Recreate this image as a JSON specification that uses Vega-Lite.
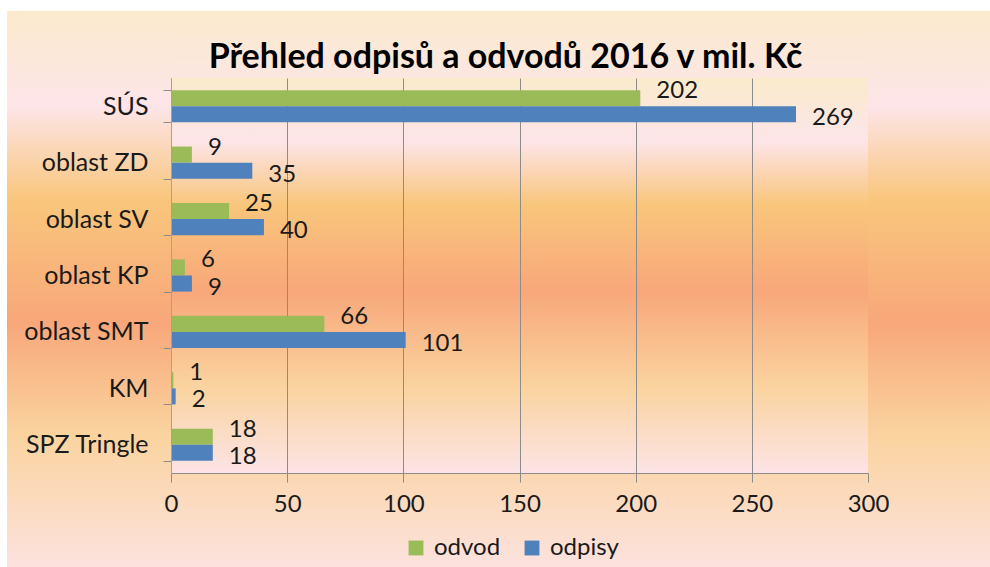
{
  "$schema": "https://vega.github.io/schema/vega-lite/v6.json",
  "width": 697,
  "height": 395,
  "autosize": {"type": "none"},
  "padding": {"left": 171, "top": 78, "right": 122, "bottom": 94},
  "background": "white",
  "view": {
    "stroke": null,
    "fill": {
      "gradient": "linear", "x1": 0, "y1": 0, "x2": 0, "y2": 1,
      "stops": [
        {"offset": 0, "color": "#FAEBCB"},
        {"offset": 0.16, "color": "#FDE5E9"},
        {"offset": 0.32, "color": "#F9C67C"},
        {"offset": 0.54, "color": "#F8A77A"},
        {"offset": 0.78, "color": "#FAD39E"},
        {"offset": 1, "color": "#FCE4E6"}
      ]
    }
  },
  "title": {
    "text": "Přehled odpisů a odvodů 2016 v mil. Kč",
    "font": "Lato",
    "fontSize": 34,
    "fontWeight": "bold",
    "color": "#000000",
    "anchor": "middle",
    "dx": -14,
    "offset": -64
  },
  "config": {
    "font": "Lato"
  },
  "datasets": {
    "bg": [{"k": 1}]
  },
  "data": {
    "values": [
      {"kategorie": "SÚS", "rada": "odvod", "hodnota": 202},
      {"kategorie": "SÚS", "rada": "odpisy", "hodnota": 269},
      {"kategorie": "oblast ZD", "rada": "odvod", "hodnota": 9},
      {"kategorie": "oblast ZD", "rada": "odpisy", "hodnota": 35},
      {"kategorie": "oblast SV", "rada": "odvod", "hodnota": 25},
      {"kategorie": "oblast SV", "rada": "odpisy", "hodnota": 40},
      {"kategorie": "oblast KP", "rada": "odvod", "hodnota": 6},
      {"kategorie": "oblast KP", "rada": "odpisy", "hodnota": 9},
      {"kategorie": "oblast SMT", "rada": "odvod", "hodnota": 66},
      {"kategorie": "oblast SMT", "rada": "odpisy", "hodnota": 101},
      {"kategorie": "KM", "rada": "odvod", "hodnota": 1},
      {"kategorie": "KM", "rada": "odpisy", "hodnota": 2},
      {"kategorie": "SPZ Tringle", "rada": "odvod", "hodnota": 18},
      {"kategorie": "SPZ Tringle", "rada": "odpisy", "hodnota": 18}
    ]
  },
  "encoding": {
    "y": {
      "field": "kategorie",
      "type": "nominal",
      "sort": ["SÚS", "oblast ZD", "oblast SV", "oblast KP", "oblast SMT", "KM", "SPZ Tringle"],
      "scale": {"paddingInner": 0.43, "paddingOuter": 0.215},
      "axis": {
        "title": null,
        "zindex": 1,
        "labelFont": "Lato",
        "labelFontSize": 25,
        "labelColor": "#1a1a1a",
        "labelPadding": 15,
        "tickSize": 8,
        "tickBand": "extent",
        "tickColor": "#8c8c8c",
        "domainColor": "#9aa3b0",
        "grid": false
      }
    }
  },
  "resolve": {"scale": {"x": "shared"}, "axis": {"x": "independent"}},
  "layer": [
    {
      "data": {"name": "bg"},
      "mark": {
        "type": "rect",
        "x": -164, "x2": 0, "y": -67, "y2": 489,
        "fill": {
          "gradient": "linear", "x1": 0, "y1": 0, "x2": 0, "y2": 1,
          "stops": [
            {"offset": 0, "color": "#FBEACC"},
            {"offset": 0.17, "color": "#FDE5E9"},
            {"offset": 0.34, "color": "#F9C67C"},
            {"offset": 0.56, "color": "#F8A77A"},
            {"offset": 0.76, "color": "#FAD39E"},
            {"offset": 1, "color": "#FCE2DE"}
          ]
        }
      },
      "encoding": {"y": null}
    },
    {
      "data": {"name": "bg"},
      "mark": {
        "type": "rect",
        "x": 697, "x2": 819, "y": -67, "y2": 489,
        "fill": {
          "gradient": "linear", "x1": 0, "y1": 0, "x2": 0, "y2": 1,
          "stops": [
            {"offset": 0, "color": "#FBEACC"},
            {"offset": 0.17, "color": "#FDE5E9"},
            {"offset": 0.34, "color": "#F9C67C"},
            {"offset": 0.56, "color": "#F8A77A"},
            {"offset": 0.76, "color": "#FAD39E"},
            {"offset": 1, "color": "#FCE2DE"}
          ]
        }
      },
      "encoding": {"y": null}
    },
    {
      "data": {"name": "bg"},
      "mark": {
        "type": "rect",
        "x": 0, "x2": 697, "y": -67, "y2": 0,
        "fill": {
          "gradient": "linear", "x1": 0, "y1": 0, "x2": 0, "y2": 1,
          "stops": [
            {"offset": 0, "color": "#FBEACC"},
            {"offset": 1, "color": "#FCE7E1"}
          ]
        }
      },
      "encoding": {"y": null}
    },
    {
      "data": {"name": "bg"},
      "mark": {
        "type": "rect",
        "x": 0, "x2": 697, "y": 395, "y2": 489,
        "fill": {
          "gradient": "linear", "x1": 0, "y1": 0, "x2": 0, "y2": 1,
          "stops": [
            {"offset": 0, "color": "#FBD7B1"},
            {"offset": 1, "color": "#FCE2DE"}
          ]
        }
      },
      "encoding": {"y": null}
    },
    {
      "mark": {"type": "bar"},
      "encoding": {
        "x": {
          "field": "hodnota",
          "type": "quantitative",
          "scale": {"domain": [0, 300], "nice": false},
          "axis": {
            "title": null,
            "orient": "bottom",
            "zindex": 0,
            "values": [0, 50, 100, 150, 200, 250, 300],
            "grid": true,
            "gridColor": "#8c8c8c",
            "gridOpacity": 1,
            "domain": false,
            "ticks": false,
            "labels": false
          }
        },
        "yOffset": {"field": "rada", "type": "nominal", "sort": ["odvod", "odpisy"], "scale": {"paddingInner": 0, "paddingOuter": 0}},
        "color": {
          "field": "rada",
          "type": "nominal",
          "scale": {"domain": ["odvod", "odpisy"], "range": ["#9BBB59", "#4F81BD"]},
          "legend": {
            "title": null,
            "orient": "none",
            "legendX": 233,
            "legendY": 458,
            "direction": "horizontal",
            "symbolType": "square",
            "symbolSize": 220,
            "symbolStrokeWidth": 0,
            "labelFont": "Lato",
            "labelFontSize": 24,
            "labelColor": "#1a1a1a",
            "labelOffset": 6,
            "columnPadding": 19
          }
        }
      }
    },
    {
      "transform": [{"filter": "datum.rada === 'odvod'"}],
      "mark": {"type": "text", "align": "left", "dx": 16, "dy": -7, "font": "Lato", "fontSize": 24, "color": "#1a1a1a"},
      "encoding": {
        "x": {
          "field": "hodnota",
          "type": "quantitative",
          "axis": {
            "title": null,
            "orient": "bottom",
            "zindex": 1,
            "values": [0, 50, 100, 150, 200, 250, 300],
            "grid": false,
            "domainColor": "#8c8c8c",
            "tickColor": "#8c8c8c",
            "tickSize": 9,
            "labelPadding": 10,
            "labelFlush": false,
            "labelFont": "Lato",
            "labelFontSize": 24,
            "labelColor": "#1a1a1a"
          }
        },
        "yOffset": {"field": "rada", "type": "nominal", "sort": ["odvod", "odpisy"]},
        "text": {"field": "hodnota", "type": "quantitative"}
      }
    },
    {
      "transform": [{"filter": "datum.rada === 'odpisy'"}],
      "mark": {"type": "text", "align": "left", "dx": 16, "dy": 4, "font": "Lato", "fontSize": 24, "color": "#1a1a1a"},
      "encoding": {
        "x": {"field": "hodnota", "type": "quantitative", "axis": null},
        "yOffset": {"field": "rada", "type": "nominal", "sort": ["odvod", "odpisy"]},
        "text": {"field": "hodnota", "type": "quantitative"}
      }
    }
  ]
}
